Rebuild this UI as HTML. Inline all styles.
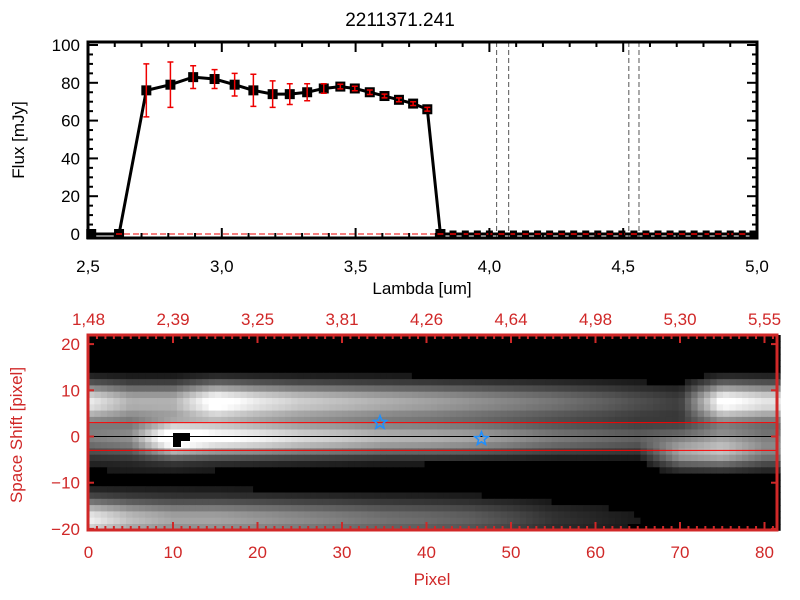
<!DOCTYPE html>
<html><head><meta charset="utf-8"><style>
body{margin:0;background:#fff;}
svg{display:block;font-family:"Liberation Sans",sans-serif;}
</style></head><body>
<svg id="c" width="800" height="600">
<text x="400" y="26" font-size="19" text-anchor="middle">2211371.241</text>
<g id="topPlot"></g>
<g id="botPlot"></g>
</svg>
<script>
// Top spectrum data
const lambdas=[2.512,2.616,2.718,2.808,2.893,2.973,3.048,3.118,3.190,3.254,3.319,3.381,3.443,3.497,3.553,3.608,3.662,3.715,3.768,3.817,3.864,3.91,3.955,4.0,4.045,4.09,4.135,4.18,4.225,4.27,4.315,4.36,4.405,4.45,4.495,4.54,4.585,4.63,4.675,4.72,4.765,4.81,4.855,4.9,4.945,4.985];
const flux=[0,0,76,79,83,82,79,76,74,74,75,77,78,77,75,73,71,69,66,0,0,0,0,0,0,0,0,0,0,0,0,0,0,0,0,0,0,0,0,0,0,0,0,0,0,0];
const fluxErr=[0,0,14,12,6,5,6,8.5,7,5.5,4.5,2.5,1.2,1.2,1.2,1,1,1,1,0,0,0,0,0,0,0,0,0,0,0,0,0,0,0,0,0,0,0,0,0,0,0,0,0,0,0];
const xTicks=["2.5","3.0","3.5","4.0","4.5","5.0"];
const yTicks=["0","20","40","60","80","100"];
const dashLines=[4.027,4.072,4.521,4.559];
// Bottom image data
const pixTicks=["0","10","20","30","40","50","60","70","80"];
const topWave=["1.48","2.39","3.25","3.81","4.26","4.64","4.98","5.30","5.55"];
const shiftTicks=["-20","-10","0","10","20"];
const bandX=[0,5,10,15,20,25,30,35,40,45,50,55,60,65,70,75,80];
const bandUpper=[0.85,0.6,0.6,1.0,0.85,0.75,0.7,0.65,0.6,0.55,0.5,0.45,0.38,0.3,0.2,1.0,0.85];
const bandCenter=[0.3,0.35,1.0,0.85,0.8,0.72,0.68,0.62,0.6,0.58,0.52,0.45,0.4,0.35,0.3,0.4,0.3];
const bandLower=[0.95,0.75,0.65,0.65,0.6,0.55,0.5,0.45,0.42,0.38,0.3,0.2,0.15,0.1,0.1,0.05,0.05];
const bandRight=[0,0,0,0,0,0,0,0,0,0,0,0,0,0,0.45,0.5,0.3];
const floorLevel=[0.18,0.2,0.2,0.16,0.14,0.12,0.1,0.08,0.08,0.06,0.04,0.02,0.02,0.02,0.08,0.1,0.1];
const bandPos=[7.5,-0.5,-18,-4];
const stars=[[34.5,3],[46.5,-0.5]];

const NS="http://www.w3.org/2000/svg";
function mk(p,t,a){const e=document.createElementNS(NS,t);for(const k in a)e.setAttribute(k,a[k]);p.appendChild(e);return e;}
const gTop=document.getElementById('topPlot'), gBot=document.getElementById('botPlot');
// top axes
const TX0=88,TX1=757,TY0=238,TY1=42;
const sx=l=>TX0+(l-2.5)/2.5*(TX1-TX0);
const sy=v=>234-v*1.89;
for(let i=0;i<dashLines.length;i++){
 const l=mk(gTop,'line',{x1:sx(dashLines[i]),x2:sx(dashLines[i]),y1:TY1,y2:TY0,stroke:'#555','stroke-dasharray':'5,3','stroke-width':1});
 
 
}
mk(gTop,'line',{x1:TX0,x2:TX1,y1:sy(0),y2:sy(0),stroke:'#e00','stroke-dasharray':'6,3','stroke-width':1});
let d='';lambdas.forEach((l,i)=>{d+=(i?'L':'M')+sx(l)+','+sy(flux[i]);});
const ln=mk(gTop,'path',{d:d,fill:'none',stroke:'#000','stroke-width':3});


lambdas.forEach((l,i)=>{
 const x=sx(l),y=sy(flux[i]);const s=i<20?10:7;
 const r=mk(gTop,'rect',{x:x-s/2,y:y-s/2,width:s,height:s,fill:'#000'});
 
 
 const e=fluxErr[i];const y1=sy(flux[i]+e),y2=sy(flux[i]-e);
 const g=mk(gTop,'path',{d:`M${x},${y1}V${y2}M${x-3},${y1}h6M${x-3},${y2}h6`,stroke:'#e00','stroke-width':1.5,fill:'none'});
 
 
});
mk(gTop,'rect',{x:TX0,y:TY1,width:TX1-TX0,height:TY0-TY1,fill:'none',stroke:'#000','stroke-width':3});
for(let v=0;v<=100;v+=5){const y=sy(v);const L=v%20==0?10:5;mk(gTop,'line',{x1:TX0,x2:TX0+L,y1:y,y2:y,stroke:'#000','stroke-width':2});mk(gTop,'line',{x1:TX1,x2:TX1-L,y1:y,y2:y,stroke:'#000','stroke-width':2});}
for(let l=2.5;l<=5.0001;l+=0.1){const x=sx(l);const L=Math.abs(l*2-Math.round(l*2))<1e-6?10:5;mk(gTop,'line',{x1:x,x2:x,y1:TY0,y2:TY0-L,stroke:'#000','stroke-width':2});mk(gTop,'line',{x1:x,x2:x,y1:TY1,y2:TY1+L,stroke:'#000','stroke-width':2});}
xTicks.forEach(t=>{const e=mk(gTop,'text',{x:sx(parseFloat(t)),y:272,'font-size':17,'text-anchor':'middle'});e.textContent=t.replace('.',',');
 
 });
yTicks.forEach(t=>{const e=mk(gTop,'text',{x:80,y:sy(+t)+6,'font-size':17,'text-anchor':'end'});e.textContent=t;
 
 });
let t=mk(gTop,'text',{x:422,y:294,'font-size':17,'text-anchor':'middle'});t.textContent='Lambda [um]';

t=mk(gTop,'text',{x:24,y:140,'font-size':17,'text-anchor':'middle',transform:'rotate(-90 24 140)'});t.textContent='Flux [mJy]';


// bottom image
const BX0=88,BX1=777,BY0=530,BY1=335;
const px=p=>88.5+p*8.45;
const py=s=>436.5-s*4.62;
function interp(arr,x){if(x<=0)return arr[0];if(x>=80)return arr[arr.length-1];const i=Math.floor(x/5),f=x/5-i;return arr[i]*(1-f)+arr[i+1]*f;}
const cw=6.35,ch=6.3;
const img=mk(gBot,'g',{});


const sig=[2.9,2.5,3.2,2.2];
for(let yy=BY1;yy<BY0;yy+=ch){for(let xx=BX0;xx<BX1;xx+=cw){
 const p=(xx+cw/2-88.5)/8.45,s=(436.5-(yy+ch/2))/4.62;
 const amps=[interp(bandUpper,p),interp(bandCenter,p),interp(bandLower,p),interp(bandRight,p)];
 let v=0;for(let k=0;k<4;k++){const dd=s-bandPos[k];v+=amps[k]*Math.exp(-dd*dd/(2*sig[k]**2));}
 if(s>-14&&s<14)v+=interp(floorLevel,p)*(1-Math.abs(s)/14);
 let g=v<0.1?0:Math.min(1,v);const c=Math.round(g*255);
 mk(img,'rect',{x:xx,y:yy,width:cw+0.5,height:ch+0.5,fill:`rgb(${c},${c},${c})`});
}}
const mark=mk(gBot,'path',{d:'M173,433H190V441H181V447H173Z',fill:'#000'});


mk(gBot,'line',{x1:BX0,x2:BX1,y1:py(0),y2:py(0),stroke:'#000','stroke-width':1});
[3,-3].forEach(s=>{const l=mk(gBot,'line',{x1:BX0,x2:BX1,y1:py(s),y2:py(s),stroke:'#f00','stroke-width':1});
 
 });
stars.forEach(s=>{const cx=px(s[0]),cy=py(s[1]);let pts='';for(let k=0;k<10;k++){const r=k%2?3:7,a=-Math.PI/2+k*Math.PI/5;pts+=(cx+r*Math.cos(a))+','+(cy+r*Math.sin(a))+' ';}
 const st=mk(gBot,'polygon',{points:pts,fill:'none',stroke:'#1e8fff','stroke-width':1.5});
 
 });
const RED='#d02828';
mk(gBot,'rect',{x:BX0,y:BY1,width:BX1-BX0,height:BY0-BY1,fill:'none',stroke:RED,'stroke-width':3});
for(let p=0;p<=81;p++){const x=px(p);const L=p%10==0?8:4;mk(gBot,'line',{x1:x,x2:x,y1:BY0,y2:BY0-L,stroke:RED,'stroke-width':2});mk(gBot,'line',{x1:x,x2:x,y1:BY1,y2:BY1+L,stroke:RED,'stroke-width':2});}
for(let s=-20;s<=20;s+=10){const y=py(s);mk(gBot,'line',{x1:BX0,x2:BX0+6,y1:y,y2:y,stroke:RED,'stroke-width':2});mk(gBot,'line',{x1:BX1,x2:BX1-6,y1:y,y2:y,stroke:RED,'stroke-width':2});}
pixTicks.forEach(v=>{const e=mk(gBot,'text',{x:px(+v),y:558,'font-size':17,'text-anchor':'middle',fill:RED});e.textContent=v;
 
 });
topWave.forEach((v,i)=>{const e=mk(gBot,'text',{x:px(i*10),y:325,'font-size':17,'text-anchor':'middle',fill:RED});e.textContent=v.replace('.',',');
 
 });
shiftTicks.forEach(v=>{const e=mk(gBot,'text',{x:80,y:py(+v)+6,'font-size':17,'text-anchor':'end',fill:RED});e.textContent=v.replace('-','\u2212');
 
 });
t=mk(gBot,'text',{x:432,y:585,'font-size':17,'text-anchor':'middle',fill:RED});t.textContent='Pixel';

t=mk(gBot,'text',{x:22,y:435,'font-size':17,'text-anchor':'middle',fill:RED,transform:'rotate(-90 22 435)'});t.textContent='Space Shift [pixel]';

</script>
</body></html>
